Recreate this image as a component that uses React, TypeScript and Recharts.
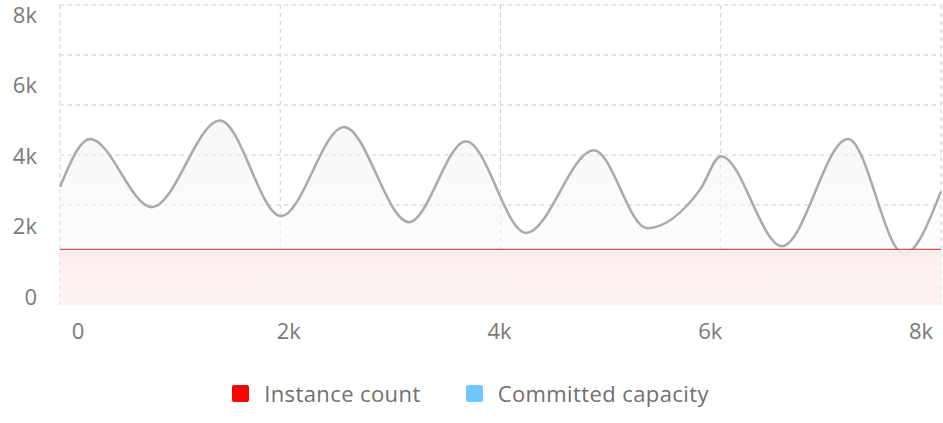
import React from 'react';
import { ComposedChart, Area, XAxis, YAxis, CartesianGrid, Legend } from 'recharts';

const xValues = [0, 272, 835, 1453, 2007, 2579, 3169, 3687, 4232, 4849, 5330, 5811, 6002, 6556, 7155, 7664, 8000];
const capacity = [3150, 4430, 2610, 4920, 2370, 4750, 2210, 4370, 1920, 4130, 2050, 3070, 3970, 1570, 4430, 1360, 3030];
const instances = [1485, 1485, 1485, 1485, 1485, 1485, 1485, 1485, 1485, 1485, 1485, 1485, 1485, 1485, 1485, 1485, 1485];

const xTicks = [0, 2000, 4000, 6000, 8000];
const yTicks = [0, 2000, 4000, 6000, 8000];
// horizontal grid rows, in sixths of the plot height from the top
const gridRows = [0, 1, 2, 3, 4];

const legendItems = [
  { name: 'Instance count', color: '#ff0000' },
  { name: 'Committed capacity', color: '#6fc8ff' },
];

const data = xValues.map((x, i) => ({ x, capacity: capacity[i], instances: instances[i] }));

const fmt = (v: number) => (v === 0 ? '0' : `${v / 1000}k`);

const FONT = '"Open Sans", Lato, sans-serif';
const tickStyle = { fill: '#7a7a7a', fontSize: 22, fontFamily: FONT };

const LegendContent = () => (
  <div style={{ display: 'flex', justifyContent: 'center', alignItems: 'center', height: 60, fontFamily: FONT }}>
    {legendItems.map((item, i) => (
      <div key={item.name} style={{ display: 'flex', alignItems: 'center', marginLeft: i ? 45 : 0 }}>
        <span style={{ width: 17, height: 17, borderRadius: 2, background: item.color, display: 'inline-block' }} />
        <span style={{ marginLeft: 15, fontSize: 22, letterSpacing: 0.4, color: '#6f6f6f' }}>{item.name}</span>
      </div>
    ))}
  </div>
);

const rowLines = ({ offset }: any) => gridRows.map((r) => offset.top + (offset.height * r) / 6);

export default function App() {
  return (
    <div style={{ position: 'absolute', left: 0, top: 0, width: 943, height: 423, background: '#fff' }}>
      <ComposedChart width={943} height={423} data={data} margin={{ top: 5, right: 2, left: 0, bottom: 0 }}>
        <defs>
          <linearGradient id="capFill" x1="0" y1="0" x2="0" y2="1">
            <stop offset="0%" stopColor="#f1f1f1" stopOpacity={0.9} />
            <stop offset="100%" stopColor="#ffffff" stopOpacity={0.9} />
          </linearGradient>
          <linearGradient id="instFill" x1="0" y1="0" x2="0" y2="1">
            <stop offset="0%" stopColor="#fdeded" stopOpacity={0.9} />
            <stop offset="100%" stopColor="#fdf2f2" stopOpacity={0.9} />
          </linearGradient>
        </defs>
        <CartesianGrid
          xAxisId="grid"
          yAxisId="data"
          stroke="#c3cede"
          strokeDasharray="4 4"
          horizontalCoordinatesGenerator={rowLines}
        />
        <XAxis
          xAxisId="label"
          dataKey="x"
          type="number"
          domain={[0, 8000]}
          allowDataOverflow
          ticks={xTicks}
          interval={0}
          tickFormatter={fmt}
          padding={{ left: 18, right: 20 }}
          height={58}
          axisLine={false}
          tickLine={false}
          tickSize={0}
          tickMargin={18}
          tick={tickStyle}
        />
        <XAxis xAxisId="grid" dataKey="x" type="number" domain={[0, 8000]} ticks={xTicks} height={0} hide />
        <YAxis
          yAxisId="label"
          type="number"
          domain={[0, 8000]}
          allowDataOverflow
          ticks={yTicks}
          interval={0}
          tickFormatter={fmt}
          padding={{ top: 10, bottom: 8 }}
          width={60}
          axisLine={false}
          tickLine={false}
          tickSize={0}
          tickMargin={23}
          tick={tickStyle}
        />
        <YAxis yAxisId="data" type="number" domain={[0, 8000]} allowDataOverflow width={0} hide />
        <Area
          xAxisId="grid"
          yAxisId="data"
          type="monotone"
          dataKey="capacity"
          stroke="#aaaaaa"
          strokeWidth={2.5}
          fill="url(#capFill)"
          isAnimationActive={false}
          dot={false}
          activeDot={false}
        />
        <Area
          xAxisId="grid"
          yAxisId="data"
          type="linear"
          dataKey="instances"
          stroke="#d02a31"
          strokeWidth={1}
          fill="url(#instFill)"
          fillOpacity={1}
          isAnimationActive={false}
          dot={false}
          activeDot={false}
        />
        <Legend verticalAlign="bottom" height={60} content={<LegendContent />} />
      </ComposedChart>
    </div>
  );
}
